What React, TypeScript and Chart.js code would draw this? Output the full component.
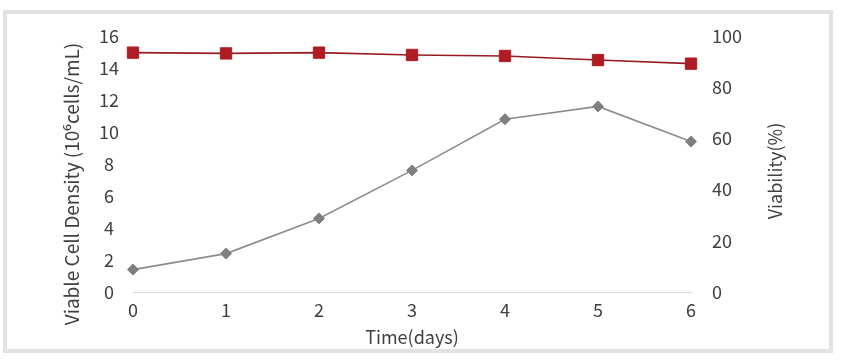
import React, { useEffect, useRef } from "react";
import { Chart, registerables } from "chart.js";

Chart.register(...registerables);

const DAYS = ["0", "1", "2", "3", "4", "5", "6"];
const VIABLE_CELL_DENSITY = [1.4, 2.4, 4.6, 7.6, 10.8, 11.6, 9.4];
const VIABILITY = [93.5, 93.2, 93.5, 92.6, 92.2, 90.6, 89.2];

const LEFT_MIN = 0;
const LEFT_MAX = 16;
const LEFT_STEP = 2;
const RIGHT_MIN = 0;
const RIGHT_MAX = 100;
const RIGHT_STEP = 20;

const X_TITLE = "Time(days)";
const LEFT_TITLE = "Viable Cell Density (10\u2076cells/mL)";
const RIGHT_TITLE = "Viability(%)";

const FONT = '"Noto Sans CJK SC", "Noto Sans", sans-serif';
const TEXT = "#404040";

const titlePlugin = {
  id: "axisTitles",
  afterDraw(chart: any) {
    const { ctx, chartArea } = chart;
    ctx.save();
    ctx.fillStyle = TEXT;
    ctx.textAlign = "center";
    ctx.textBaseline = "middle";
    const cx = (chartArea.left + chartArea.right) / 2;
    const cy = (chartArea.top + chartArea.bottom) / 2;
    ctx.font = `18px ${FONT}`;
    ctx.fillText(X_TITLE, cx, chartArea.bottom + 45);
    ctx.save();
    ctx.translate(chartArea.right + 84, cy + 7);
    ctx.rotate(-Math.PI / 2);
    ctx.fillText(RIGHT_TITLE, 0, 0);
    ctx.restore();
    ctx.font = `19px ${FONT}`;
    ctx.save();
    ctx.translate(chartArea.left - 61, cy + 20);
    ctx.rotate(-Math.PI / 2);
    ctx.fillText(LEFT_TITLE, 0, 0);
    ctx.restore();
    ctx.restore();
  },
};

export default function App() {
  const ref = useRef<HTMLCanvasElement | null>(null);
  useEffect(() => {
    if (!ref.current) return;
    const chart = new Chart(ref.current, {
      type: "line",
      data: {
        labels: DAYS,
        datasets: [
          {
            label: "Viability",
            data: VIABILITY,
            yAxisID: "yR",
            borderColor: "#961c22",
            backgroundColor: "#b01c24",
            borderWidth: 1.6,
            pointStyle: "rect",
            pointRadius: 8,
            pointBorderWidth: 1,
            pointBorderColor: "#b01c24",
            pointBackgroundColor: "#b01c24",
            tension: 0,
          },
          {
            label: "VCD",
            data: VIABLE_CELL_DENSITY,
            yAxisID: "yL",
            borderColor: "#8c8c8c",
            backgroundColor: "#7f7f7f",
            borderWidth: 1.6,
            pointStyle: "rectRot",
            pointRadius: 5.5,
            pointBorderWidth: 1,
            pointBorderColor: "#7f7f7f",
            pointBackgroundColor: "#7f7f7f",
            tension: 0,
          },
        ],
      },
      options: {
        responsive: false,
        animation: false,
        devicePixelRatio: 1,
        layout: { padding: { top: 36, left: 0, right: 0, bottom: 0 } },
        plugins: {
          legend: { display: false },
          tooltip: { enabled: false },
        },
        scales: {
          x: {
            type: "category",
            offset: false,
            grid: { display: false, drawTicks: false },
            border: { display: true, color: "#d9d9d9", width: 1 },
            ticks: { color: TEXT, font: { family: FONT, size: 18 }, padding: 7 },
            afterFit(scale: any) {
              scale.height = 72;
            },
          },
          yL: {
            type: "linear",
            position: "left",
            min: LEFT_MIN,
            max: LEFT_MAX,
            grid: { display: false, drawTicks: false },
            border: { display: false },
            ticks: {
              stepSize: LEFT_STEP,
              color: TEXT,
              font: { family: FONT, size: 18 },
              padding: 14,
              crossAlign: "center",
            },
            afterFit(scale: any) {
              scale.width = 133;
            },
          },
          yR: {
            type: "linear",
            position: "right",
            min: RIGHT_MIN,
            max: RIGHT_MAX,
            grid: { display: false, drawTicks: false },
            border: { display: false },
            ticks: {
              stepSize: RIGHT_STEP,
              color: TEXT,
              font: { family: FONT, size: 18 },
              padding: 21,
            },
            afterFit(scale: any) {
              scale.width = 150;
            },
          },
        },
      },
      plugins: [titlePlugin],
    });
    return () => chart.destroy();
  }, []);

  return (
    <div
      style={{
        position: "fixed",
        left: 0,
        top: 0,
        width: 841,
        height: 364,
        background: "#ffffff",
        overflow: "hidden",
      }}
    >
      <div
        style={{
          position: "absolute",
          left: 3,
          top: 10,
          width: 830,
          height: 343,
          boxSizing: "border-box",
          border: "4px solid #e2e2e2",
        }}
      />
      <canvas
        ref={ref}
        width={841}
        height={364}
        style={{ position: "absolute", left: 0, top: 0, width: 841, height: 364 }}
      />
    </div>
  );
}
